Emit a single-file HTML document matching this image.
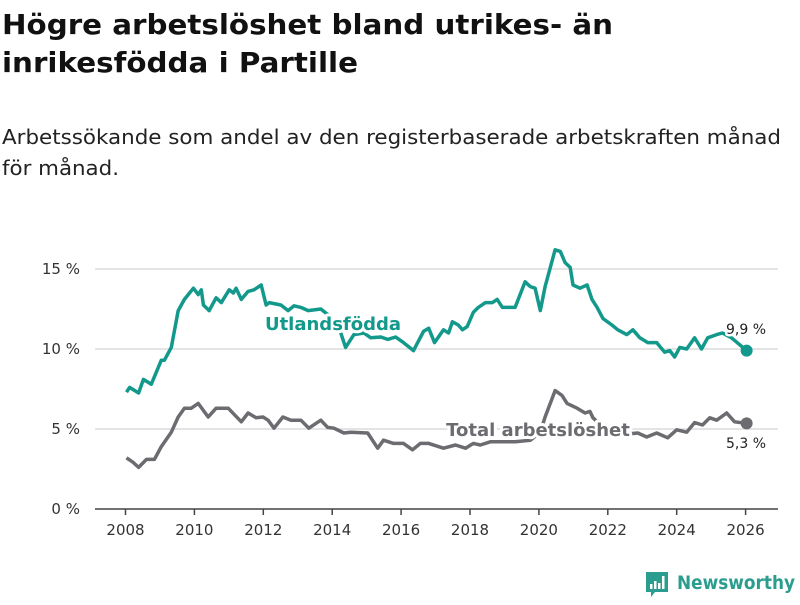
<!DOCTYPE html>
<html><head><meta charset="utf-8">
<style>
body{margin:0;background:#fff;width:800px;height:600px;overflow:hidden;font-family:"Liberation Sans","DejaVu Sans",sans-serif}
</style></head>
<body>
<svg width="800" height="600" xmlns="http://www.w3.org/2000/svg" font-family="'DejaVu Sans','Liberation Sans',sans-serif">
<text x="2" y="34" font-size="28" font-weight="bold" fill="#111" textLength="611" lengthAdjust="spacingAndGlyphs">Högre arbetslöshet bland utrikes- än</text>
<text x="2" y="72" font-size="28" font-weight="bold" fill="#111" textLength="356" lengthAdjust="spacingAndGlyphs">inrikesfödda i Partille</text>
<text x="2" y="144" font-size="20" fill="#222" textLength="779" lengthAdjust="spacingAndGlyphs">Arbetssökande som andel av den registerbaserade arbetskraften månad</text>
<text x="2" y="175" font-size="20" fill="#222" textLength="117" lengthAdjust="spacingAndGlyphs">för månad.</text>
<g id="grid"></g><g id="axes"></g><g id="lines"></g><g id="labels"></g>
<g>
<path d="M646 572 h22 v20 h-13 l-4 5 v-5 h-5 z" fill="#2a9d8f"/>
<rect x="650" y="584" width="2.5" height="5" fill="#fff"/><rect x="654" y="581" width="2.5" height="8" fill="#fff"/><rect x="658" y="583" width="2.5" height="6" fill="#fff"/><rect x="662" y="576" width="2.5" height="13" fill="#fff"/>
<text x="677" y="589" font-size="19" font-weight="bold" fill="#2a9d8f" textLength="118" lengthAdjust="spacingAndGlyphs">Newsworthy</text>
</g>
</svg>
<script>
const utlYears=[2008.03,2008.12,2008.38,2008.52,2008.75,2009.04,2009.13,2009.33,2009.53,2009.71,2009.97,2010.11,2010.2,2010.26,2010.43,2010.63,2010.78,2011.01,2011.13,2011.21,2011.36,2011.56,2011.73,2011.94,2012.08,2012.17,2012.51,2012.72,2012.89,2013.09,2013.3,2013.67,2013.96,2014.25,2014.39,2014.63,2014.92,2015.12,2015.41,2015.61,2015.84,2016.07,2016.36,2016.65,2016.8,2016.97,2017.23,2017.38,2017.49,2017.66,2017.78,2017.92,2018.1,2018.24,2018.45,2018.65,2018.79,2018.94,2019.11,2019.31,2019.6,2019.75,2019.89,2020.04,2020.18,2020.47,2020.62,2020.76,2020.91,2020.99,2021.19,2021.4,2021.54,2021.69,2021.86,2022.12,2022.29,2022.55,2022.73,2022.93,2023.16,2023.42,2023.65,2023.8,2023.94,2024.09,2024.29,2024.52,2024.72,2024.9,2025.16,2025.33,2025.59,2026.03];
const utlValues=[7.3,7.6,7.25,8.1,7.8,9.3,9.3,10.1,12.4,13.1,13.8,13.4,13.7,12.75,12.4,13.2,12.9,13.7,13.5,13.8,13.1,13.6,13.7,14.0,12.75,12.9,12.75,12.4,12.7,12.6,12.4,12.5,12.0,11.0,10.1,10.9,11.0,10.7,10.75,10.6,10.75,10.4,9.9,11.1,11.3,10.4,11.2,11.0,11.7,11.5,11.2,11.4,12.3,12.6,12.9,12.9,13.1,12.6,12.6,12.6,14.2,13.9,13.8,12.4,13.9,16.2,16.1,15.4,15.1,14.0,13.8,14.0,13.1,12.6,11.9,11.5,11.2,10.9,11.2,10.7,10.4,10.4,9.8,9.9,9.5,10.1,10.0,10.7,10.0,10.7,10.9,11.0,10.7,9.9];
const totYears=[2008.03,2008.23,2008.38,2008.61,2008.84,2009.04,2009.33,2009.53,2009.71,2009.91,2010.11,2010.4,2010.63,2010.98,2011.36,2011.56,2011.79,2011.99,2012.14,2012.31,2012.57,2012.8,2013.09,2013.32,2013.67,2013.87,2014.05,2014.34,2014.54,2015.03,2015.32,2015.49,2015.78,2016.07,2016.33,2016.56,2016.8,2017.23,2017.58,2017.87,2018.1,2018.3,2018.59,2019.31,2019.75,2020.04,2020.18,2020.47,2020.67,2020.82,2021.11,2021.34,2021.48,2021.57,2021.77,2022.21,2022.64,2022.87,2023.13,2023.42,2023.74,2024.0,2024.29,2024.52,2024.75,2024.96,2025.16,2025.45,2025.68,2026.03];
const totValues=[3.2,2.9,2.6,3.1,3.1,3.9,4.8,5.75,6.3,6.3,6.6,5.75,6.3,6.3,5.45,6.0,5.7,5.75,5.55,5.05,5.75,5.55,5.55,5.05,5.55,5.1,5.05,4.75,4.8,4.75,3.8,4.3,4.1,4.1,3.7,4.1,4.1,3.8,4.0,3.8,4.1,4.0,4.2,4.2,4.3,4.8,5.75,7.4,7.1,6.6,6.3,6.0,6.1,5.7,5.3,5.0,4.7,4.75,4.5,4.75,4.45,4.95,4.8,5.4,5.25,5.7,5.55,6.0,5.45,5.35];
const yTicks=[0,5,10,15];
const yTickLabels=["0 %","5 %","10 %","15 %"];
const xTicks=[2008,2010,2012,2014,2016,2018,2020,2022,2024,2026];
const NS="http://www.w3.org/2000/svg";
const X=y=>125.5+(y-2008)*34.45;
const Y=v=>509-v*16;
function mk(tag,attrs,parent,txt){const e=document.createElementNS(NS,tag);for(const k in attrs)e.setAttribute(k,attrs[k]);if(txt!==undefined)e.textContent=txt;document.getElementById(parent).appendChild(e);return e;}
yTicks.forEach((t,i)=>{
 if(t>0){const g=mk('line',{x1:95,x2:778,y1:Y(t),y2:Y(t),stroke:'#dcdcdc','stroke-width':1.5},'grid');
 
 }
 const l=mk('text',{x:80,y:Y(t)+5,'font-size':15,fill:'#333','text-anchor':'end'},'axes',yTickLabels[i]);
 
 
});
const ax=mk('line',{x1:95,x2:778,y1:509,y2:509,stroke:'#444','stroke-width':1.5},'axes');


xTicks.forEach(t=>{
 const tk=mk('line',{x1:X(t),x2:X(t),y1:509,y2:515,stroke:'#444','stroke-width':1.5},'axes');
 
 
 const l=mk('text',{x:X(t),y:535,'font-size':15,fill:'#333','text-anchor':'middle'},'axes',String(t));
 
 
});
function series(ys,vs,color,name){
 const d=ys.map((y,i)=>(i?'L':'M')+X(y).toFixed(1)+' '+Y(vs[i]).toFixed(1)).join(' ');
 const p=mk('path',{d:d,fill:'none',stroke:color,'stroke-width':3.5,'stroke-linejoin':'round'},'lines');
 
 
 const n=ys.length-1;
 const c=mk('circle',{cx:X(ys[n]),cy:Y(vs[n]),r:6,fill:color},'lines');
 
 
}
series(utlYears,utlValues,'#12998b','utlandsfodda');
series(totYears,totValues,'#6c6b70','total');
function lab(x,y,txt,color,size,bold,anchor,name){
 const t=mk('text',{x:x,y:y,'font-size':size,'font-weight':bold?'bold':'normal',fill:color,'text-anchor':anchor,stroke:'#fff','stroke-width':bold?6:5,'paint-order':'stroke','stroke-linejoin':'round'},'labels',txt);
 
 
}
lab(333,330,'Utlandsfödda','#12998b',18,true,'middle','utlandsfodda-label');
lab(538,436,'Total arbetslöshet','#6c6b70',18,true,'middle','total-label');
lab(746,334,'9,9 %','#222',14,false,'middle','utlandsfodda-value');
lab(746,448,'5,3 %','#222',14,false,'middle','total-value');
</script>
</body></html>
